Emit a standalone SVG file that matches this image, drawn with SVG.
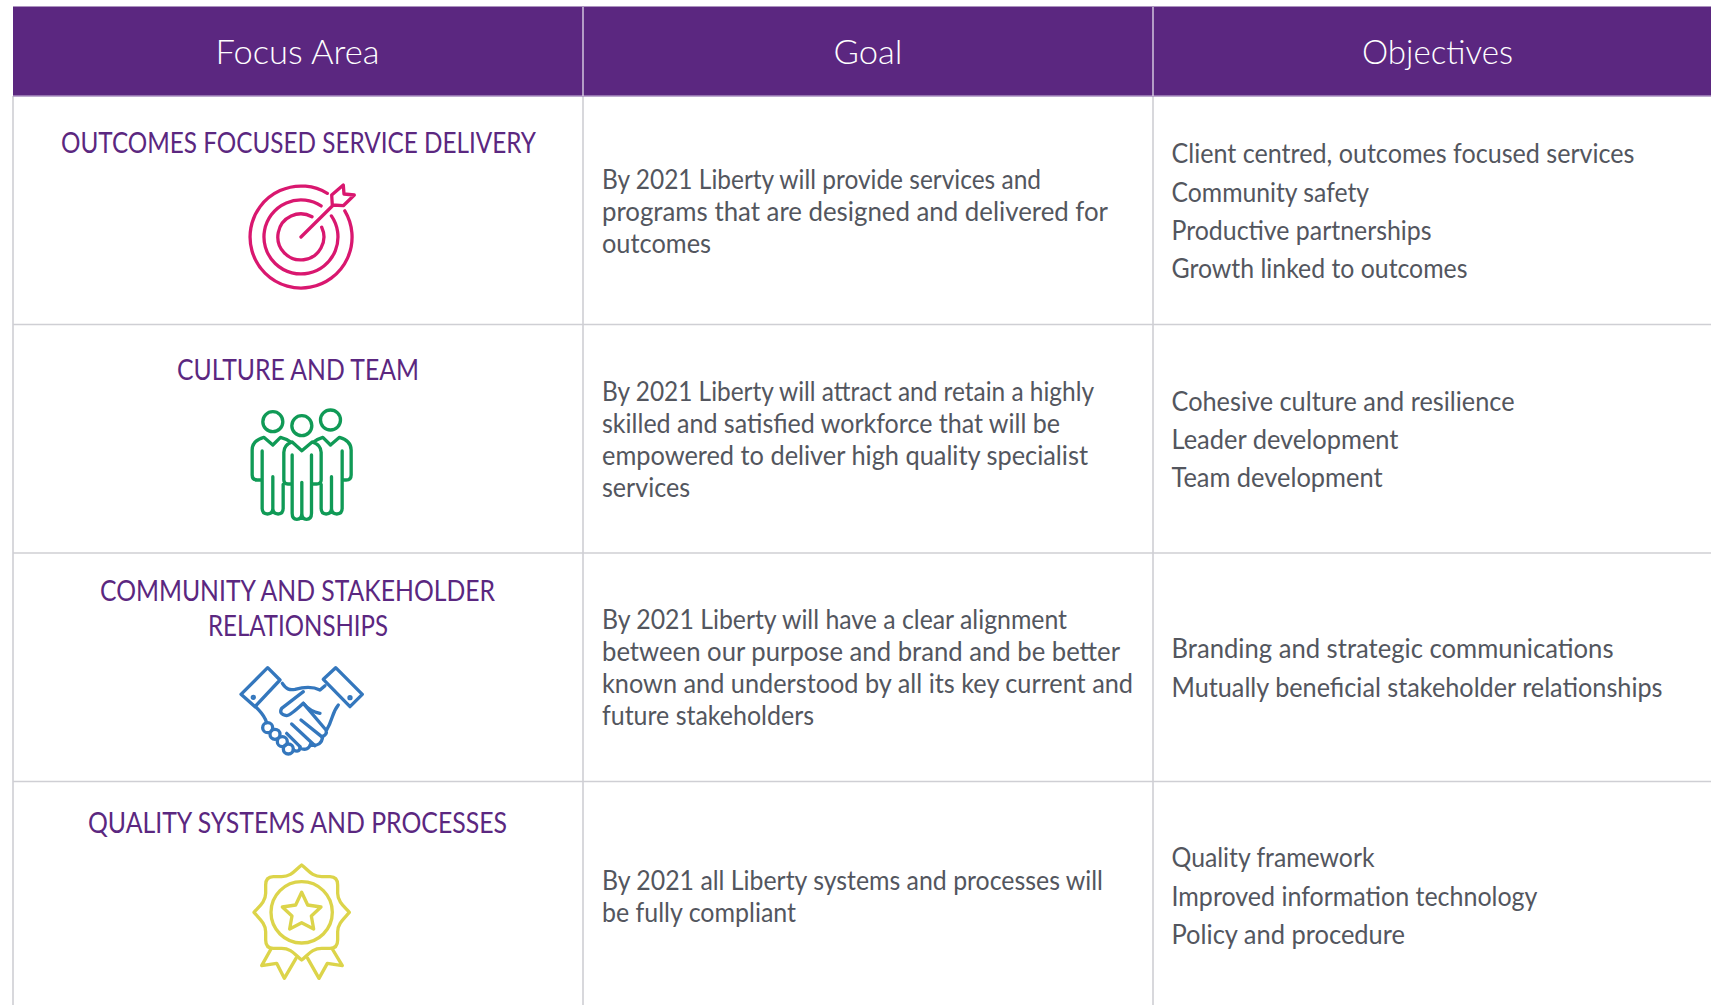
<svg xmlns="http://www.w3.org/2000/svg" width="1711" height="1005" viewBox="0 0 1711 1005">
<style>
text{font-family:"Lato","Open Sans","Liberation Sans",sans-serif}
.h{font-size:34px;fill:#fff;font-weight:300}
.f{font-size:28px;fill:#5b2780}
.b{font-size:26px;fill:#53565e}
.i{fill:none;stroke-linecap:round;stroke-linejoin:round}
.grid{stroke:#cfcfd4;stroke-width:1.6;fill:none}
</style>
<rect width="1711" height="1005" fill="#fff"/>
<g id="grid" class="grid">
<path d="M13 96V1005M583 96V1005M1153 96V1005M13 324.500H1711M13 553H1711M13 781.500H1711"/>
</g>
<g id="header">
<rect x="13" y="6.500" width="1698" height="89.500" fill="#5b2780"/>
<path d="M13 96H1711" stroke="#a98fc0" stroke-width="1.400"/>
<path d="M583 7V96M1153 7V96" stroke="#d9cfe3" stroke-width="1.400"/>
<text class="h" x="215.500" y="64" textLength="164" lengthAdjust="spacingAndGlyphs">Focus Area</text>
<text class="h" x="833.500" y="64" textLength="69" lengthAdjust="spacingAndGlyphs">Goal</text>
<text class="h" x="1362" y="64" textLength="151" lengthAdjust="spacingAndGlyphs">Objectives</text>
</g>
<g id="row1">
<text class="f" x="61" y="152.700" textLength="475" lengthAdjust="spacingAndGlyphs">OUTCOMES FOCUSED SERVICE DELIVERY</text>
<g id="icon-target" class="i" stroke="#d9176f" stroke-width="3.300">
<path d="M327.300 193.300A51 51 0 1 0 344.800 210.800M321.100 205.900A37 37 0 1 0 331.400 215.900M312 216.800A23 23 0 1 0 321.700 227.200M301 237L333.300 205M331.700 195L343.300 185L344 194L354.300 195L343.300 205.700L332.300 205Z"/>
</g>
<text class="b" x="602" y="189.200" textLength="439" lengthAdjust="spacingAndGlyphs">By 2021 Liberty will provide services and</text>
<text class="b" x="602" y="221.400" textLength="506" lengthAdjust="spacingAndGlyphs">programs that are designed and delivered for</text>
<text class="b" x="602" y="253" textLength="109" lengthAdjust="spacingAndGlyphs">outcomes</text>
<text class="b" x="1171.500" y="163" textLength="463" lengthAdjust="spacingAndGlyphs">Client centred, outcomes focused services</text>
<text class="b" x="1171.500" y="201.800" textLength="197.500" lengthAdjust="spacingAndGlyphs">Community safety</text>
<text class="b" x="1171.500" y="240" textLength="260" lengthAdjust="spacingAndGlyphs">Productive partnerships</text>
<text class="b" x="1171.500" y="278" textLength="296" lengthAdjust="spacingAndGlyphs">Growth linked to outcomes</text>
</g>
<g id="row2">
<text class="f" x="177" y="379.500" textLength="242" lengthAdjust="spacingAndGlyphs">CULTURE AND TEAM</text>
<g id="icon-team" class="i" stroke="#109a56" stroke-width="10" transform="translate(230.500 395) scale(.3333)">
<circle cx="127" cy="80" r="30"/><circle cx="214" cy="92" r="30"/><circle cx="300" cy="75" r="30"/>
<path d="M214 167L185 141Q160 150 160 172V255Q160 267 172 267H185M185 180V355Q185 373 199 373Q214 373 214 355V262M214 355Q214 373 228 373Q243 373 243 355V180M243 267H258Q272 267 272 255V172Q272 150 245 141L214 167"/>
<path d="M127 150L100 127Q65 137 65 165V240Q65 255 80 255H95M95 168V340Q95 357 111 357Q127 357 127 340V245M127 340Q127 357 143 357Q158 357 158 340V268M127 150L150 127Q170 132 182 142"/>
<path d="M300 150L327 127Q362 137 362 165V240Q362 255 347 255H335M335 168V340Q335 357 319 357Q303 357 303 340V245M303 340Q303 357 287 357Q272 357 272 340V268M300 150L277 127Q260 132 248 142"/>
</g>
<text class="b" x="602" y="401" textLength="492" lengthAdjust="spacingAndGlyphs">By 2021 Liberty will attract and retain a highly</text>
<text class="b" x="602" y="432.500" textLength="458" lengthAdjust="spacingAndGlyphs">skilled and satisfied workforce that will be</text>
<text class="b" x="602" y="464.700" textLength="486" lengthAdjust="spacingAndGlyphs">empowered to deliver high quality specialist</text>
<text class="b" x="602" y="497" textLength="88" lengthAdjust="spacingAndGlyphs">services</text>
<text class="b" x="1171.500" y="410.700" textLength="343" lengthAdjust="spacingAndGlyphs">Cohesive culture and resilience</text>
<text class="b" x="1171.500" y="449" textLength="227" lengthAdjust="spacingAndGlyphs">Leader development</text>
<text class="b" x="1171.500" y="487" textLength="211" lengthAdjust="spacingAndGlyphs">Team development</text>
</g>
<g id="row3">
<text class="f" x="100" y="601" textLength="395" lengthAdjust="spacingAndGlyphs">COMMUNITY AND STAKEHOLDER</text>
<text class="f" x="208" y="636" textLength="180" lengthAdjust="spacingAndGlyphs">RELATIONSHIPS</text>
<g id="icon-handshake" class="i" stroke="#3477bd" stroke-width="10" transform="translate(225 655) scale(.3333)">
<path d="M48 118L128 38L165 75L90 155ZM295 73L332 38L412 118L375 155Z"/>
<circle cx="85" cy="127" r="3" fill="#3477bd"/><circle cx="375" cy="128" r="3" fill="#3477bd"/>
<path d="M172 85C185 105 195 105 210 103C240 95 265 95 285 105L300 92"/>
<path d="M235 110L170 160Q160 178 185 182Q195 182 235 145Q255 170 285 175"/>
<path d="M340 150C320 175 325 190 305 225M235 145L303 225Q308 240 290 245L228 195M200 207L270 272M185 235L225 275"/>
<path d="M92 155C110 175 118 180 125 203"/>
<circle cx="128" cy="218" r="15"/><circle cx="150" cy="238" r="15"/><circle cx="172" cy="260" r="15"/><circle cx="190" cy="282" r="15"/>
<path d="M205 285Q225 295 225 275M225 280Q250 290 258 265M258 270Q290 275 293 245"/>
</g>
<text class="b" x="602" y="629" textLength="465" lengthAdjust="spacingAndGlyphs">By 2021 Liberty will have a clear alignment</text>
<text class="b" x="602" y="661" textLength="518" lengthAdjust="spacingAndGlyphs">between our purpose and brand and be better</text>
<text class="b" x="602" y="692.600" textLength="531" lengthAdjust="spacingAndGlyphs">known and understood by all its key current and</text>
<text class="b" x="602" y="725" textLength="212" lengthAdjust="spacingAndGlyphs">future stakeholders</text>
<text class="b" x="1171.500" y="658" textLength="442" lengthAdjust="spacingAndGlyphs">Branding and strategic communications</text>
<text class="b" x="1171.500" y="697" textLength="491" lengthAdjust="spacingAndGlyphs">Mutually beneficial stakeholder relationships</text>
</g>
<g id="row4">
<text class="f" x="88" y="833" textLength="419" lengthAdjust="spacingAndGlyphs">QUALITY SYSTEMS AND PROCESSES</text>
<g id="icon-badge" class="i" stroke="#dcd44a" stroke-width="10" transform="translate(235 850) scale(.3333)">
<path d="M200 45C180 60 170 80 140 80H115Q92 80 92 105V130C92 155 72 170 57 187C72 205 92 220 92 245V270Q92 295 115 295H140C170 295 180 315 200 330C220 315 230 295 260 295H285Q308 295 308 270V245C308 220 328 205 343 187C328 170 308 155 308 130V105Q308 80 285 80H260C230 80 220 60 200 45Z"/>
<circle cx="200" cy="187" r="92"/>
<path d="M200 127L218 165L258 171L229 198L236 237L200 218L164 237L171 198L142 171L182 165Z"/>
<path d="M108 297L80 347L125 340L148 385L183 325M292 297L322 347L277 340L252 385L218 325"/>
</g>
<text class="b" x="602" y="890.300" textLength="501" lengthAdjust="spacingAndGlyphs">By 2021 all Liberty systems and processes will</text>
<text class="b" x="602" y="922" textLength="194" lengthAdjust="spacingAndGlyphs">be fully compliant</text>
<text class="b" x="1171.500" y="867" textLength="203" lengthAdjust="spacingAndGlyphs">Quality framework</text>
<text class="b" x="1171.500" y="905.500" textLength="366" lengthAdjust="spacingAndGlyphs">Improved information technology</text>
<text class="b" x="1171.500" y="944" textLength="233.500" lengthAdjust="spacingAndGlyphs">Policy and procedure</text>
</g>
</svg>
